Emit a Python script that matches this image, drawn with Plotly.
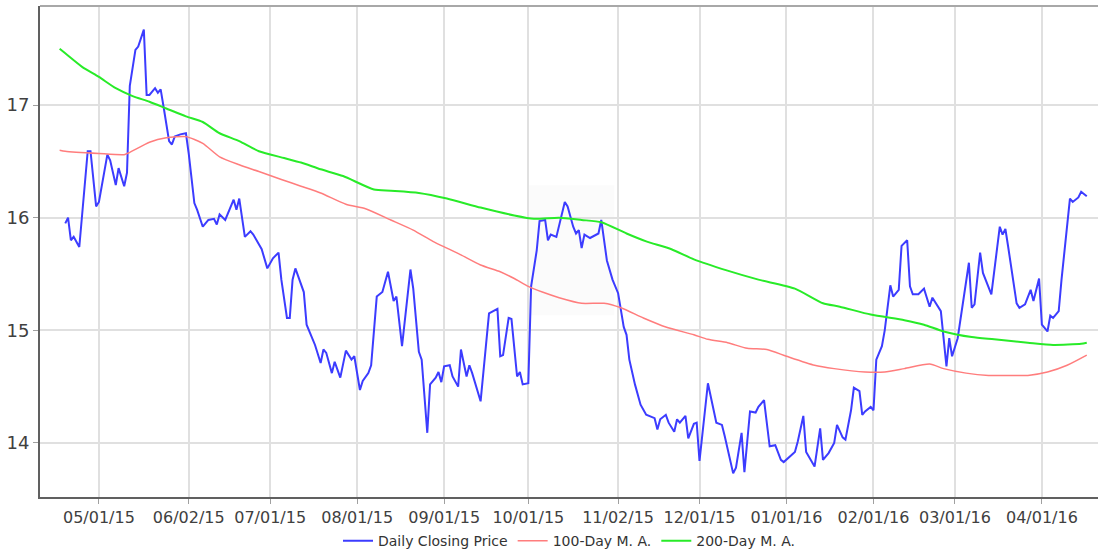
import plotly.graph_objects as go

# ---- Daily closing price ----
price_dates = [
    "2015-04-19", "2015-04-20", "2015-04-21", "2015-04-22", "2015-04-24", "2015-04-27", "2015-04-28", "2015-04-30",
    "2015-05-01", "2015-05-04", "2015-05-05", "2015-05-07", "2015-05-08", "2015-05-10", "2015-05-11", "2015-05-12",
    "2015-05-14", "2015-05-15", "2015-05-17", "2015-05-18", "2015-05-19", "2015-05-21", "2015-05-22", "2015-05-23",
    "2015-05-24", "2015-05-26", "2015-05-27", "2015-05-28", "2015-05-30", "2015-06-01", "2015-06-02", "2015-06-04",
    "2015-06-05", "2015-06-07", "2015-06-09", "2015-06-11", "2015-06-12", "2015-06-13", "2015-06-15", "2015-06-18",
    "2015-06-19", "2015-06-20", "2015-06-22", "2015-06-24", "2015-06-25", "2015-06-28", "2015-06-30", "2015-07-02",
    "2015-07-04", "2015-07-05", "2015-07-07", "2015-07-08", "2015-07-09", "2015-07-10", "2015-07-13", "2015-07-14",
    "2015-07-17", "2015-07-19", "2015-07-20", "2015-07-21", "2015-07-23", "2015-07-24", "2015-07-26", "2015-07-28",
    "2015-07-30", "2015-07-31", "2015-08-02", "2015-08-03", "2015-08-05", "2015-08-06", "2015-08-08", "2015-08-10",
    "2015-08-12", "2015-08-14", "2015-08-15", "2015-08-17", "2015-08-20", "2015-08-21", "2015-08-23", "2015-08-24",
    "2015-08-26", "2015-08-27", "2015-08-29", "2015-08-30", "2015-08-31", "2015-09-01", "2015-09-03", "2015-09-04",
    "2015-09-06", "2015-09-07", "2015-09-09", "2015-09-10", "2015-09-11", "2015-09-14", "2015-09-17", "2015-09-20",
    "2015-09-21", "2015-09-22", "2015-09-24", "2015-09-25", "2015-09-27", "2015-09-28", "2015-09-29", "2015-10-01",
    "2015-10-02", "2015-10-04", "2015-10-05", "2015-10-07", "2015-10-08", "2015-10-09", "2015-10-11", "2015-10-14",
    "2015-10-15", "2015-10-17", "2015-10-18", "2015-10-19", "2015-10-20", "2015-10-21", "2015-10-23", "2015-10-26",
    "2015-10-27", "2015-10-29", "2015-10-31", "2015-11-02", "2015-11-04", "2015-11-05", "2015-11-06", "2015-11-08",
    "2015-11-10", "2015-11-12", "2015-11-15", "2015-11-16", "2015-11-17", "2015-11-19", "2015-11-20", "2015-11-22",
    "2015-11-23", "2015-11-24", "2015-11-26", "2015-11-27", "2015-11-29", "2015-11-30", "2015-12-01", "2015-12-04",
    "2015-12-07", "2015-12-09", "2015-12-10", "2015-12-13", "2015-12-14", "2015-12-16", "2015-12-17", "2015-12-19",
    "2015-12-21", "2015-12-22", "2015-12-24", "2015-12-26", "2015-12-28", "2015-12-30", "2015-12-31", "2016-01-04",
    "2016-01-05", "2016-01-07", "2016-01-08", "2016-01-11", "2016-01-13", "2016-01-14", "2016-01-16", "2016-01-18",
    "2016-01-19", "2016-01-21", "2016-01-22", "2016-01-24", "2016-01-25", "2016-01-27", "2016-01-28", "2016-01-29",
    "2016-01-31", "2016-02-01", "2016-02-02", "2016-02-04", "2016-02-05", "2016-02-07", "2016-02-08", "2016-02-10",
    "2016-02-11", "2016-02-13", "2016-02-14", "2016-02-15", "2016-02-17", "2016-02-19", "2016-02-21", "2016-02-22",
    "2016-02-25", "2016-02-26", "2016-02-27", "2016-02-28", "2016-02-29", "2016-03-02", "2016-03-04", "2016-03-06",
    "2016-03-07", "2016-03-08", "2016-03-10", "2016-03-11", "2016-03-14", "2016-03-17", "2016-03-18", "2016-03-19",
    "2016-03-20", "2016-03-23", "2016-03-24", "2016-03-26", "2016-03-28", "2016-03-29", "2016-03-31", "2016-04-01",
    "2016-04-03", "2016-04-04", "2016-04-05", "2016-04-07", "2016-04-08", "2016-04-11", "2016-04-12", "2016-04-14",
    "2016-04-15", "2016-04-17",
]
price_values = [
    15.95, 16.00, 15.80, 15.83, 15.74, 16.59, 16.59, 16.10,
    16.14, 16.56, 16.51, 16.29, 16.44, 16.28, 16.40, 17.17,
    17.49, 17.52, 17.67, 17.09, 17.09, 17.15, 17.11, 17.14,
    16.99, 16.68, 16.65, 16.72, 16.74, 16.75, 16.57, 16.13,
    16.07, 15.92, 15.98, 15.99, 15.94, 16.03, 15.98, 16.16,
    16.07, 16.17, 15.83, 15.88, 15.85, 15.72, 15.55, 15.64,
    15.69, 15.45, 15.11, 15.11, 15.45, 15.55, 15.34, 15.05,
    14.87, 14.71, 14.83, 14.80, 14.62, 14.72, 14.58, 14.82,
    14.74, 14.77, 14.47, 14.55, 14.62, 14.69, 15.30, 15.34,
    15.52, 15.26, 15.30, 14.86, 15.54, 15.37, 14.81, 14.74,
    14.09, 14.52, 14.58, 14.63, 14.54, 14.68, 14.69, 14.59,
    14.50, 14.83, 14.59, 14.69, 14.62, 14.37, 15.15, 15.19,
    14.77, 14.78, 15.11, 15.10, 14.59, 14.63, 14.52, 14.53,
    15.39, 15.71, 15.97, 15.98, 15.80, 15.85, 15.83, 16.14,
    16.10, 15.92, 15.86, 15.89, 15.73, 15.85, 15.82, 15.86,
    15.98, 15.62, 15.45, 15.33, 15.03, 14.96, 14.74, 14.52,
    14.34, 14.25, 14.22, 14.12, 14.21, 14.25, 14.18, 14.10,
    14.21, 14.18, 14.24, 14.04, 14.17, 14.18, 13.84, 14.53,
    14.18, 14.16, 14.06, 13.73, 13.78, 14.09, 13.74, 14.28,
    14.27, 14.32, 14.38, 13.97, 13.98, 13.85, 13.83, 13.92,
    14.01, 14.24, 13.92, 13.79, 14.13, 13.85, 13.91, 14.00,
    14.16, 14.05, 14.03, 14.29, 14.49, 14.46, 14.25, 14.28,
    14.32, 14.29, 14.74, 14.86, 15.00, 15.40, 15.30, 15.36,
    15.75, 15.80, 15.39, 15.32, 15.32, 15.37, 15.21, 15.29,
    15.17, 14.93, 14.68, 14.93, 14.77, 14.93, 15.27, 15.60,
    15.20, 15.23, 15.69, 15.51, 15.32, 15.92, 15.85, 15.90,
    15.74, 15.24, 15.20, 15.23, 15.36, 15.26, 15.46, 15.05,
    14.99, 15.13, 15.11, 15.17, 15.45, 16.17, 16.14, 16.18,
    16.23, 16.19,
]

# ---- 100-day moving average ----
ma100_dates = [
    "2015-04-17", "2015-04-19", "2015-05-01", "2015-05-10", "2015-05-12", "2015-05-19", "2015-05-25", "2015-06-01",
    "2015-06-07", "2015-06-13", "2015-06-20", "2015-06-27", "2015-07-05", "2015-07-12", "2015-07-19", "2015-07-28",
    "2015-08-04", "2015-08-13", "2015-08-21", "2015-08-28", "2015-09-02", "2015-09-07", "2015-09-14", "2015-09-21",
    "2015-09-26", "2015-10-01", "2015-10-06", "2015-10-12", "2015-10-20", "2015-10-28", "2015-11-03", "2015-11-11",
    "2015-11-19", "2015-11-29", "2015-12-04", "2015-12-11", "2015-12-18", "2015-12-25", "2016-01-01", "2016-01-11",
    "2016-01-18", "2016-01-29", "2016-02-05", "2016-02-12", "2016-02-21", "2016-02-26", "2016-03-05", "2016-03-13",
    "2016-03-20", "2016-03-27", "2016-04-03", "2016-04-10", "2016-04-17",
]
ma100_values = [
    16.60, 16.59, 16.57, 16.56, 16.58, 16.67, 16.71, 16.72,
    16.66, 16.54, 16.47, 16.41, 16.34, 16.28, 16.22, 16.12,
    16.08, 15.98, 15.89, 15.79, 15.73, 15.67, 15.58, 15.52,
    15.46, 15.39, 15.34, 15.29, 15.24, 15.24, 15.20, 15.11,
    15.03, 14.96, 14.92, 14.89, 14.84, 14.83, 14.77, 14.69,
    14.66, 14.63, 14.63, 14.66, 14.70, 14.66, 14.62, 14.60,
    14.60, 14.60, 14.63, 14.69, 14.78,
]

# ---- 200-day moving average ----
ma200_dates = [
    "2015-04-17", "2015-04-19", "2015-04-25", "2015-05-01", "2015-05-07", "2015-05-13", "2015-05-19", "2015-05-25",
    "2015-06-01", "2015-06-07", "2015-06-13", "2015-06-20", "2015-06-27", "2015-07-06", "2015-07-12", "2015-07-19",
    "2015-07-27", "2015-08-07", "2015-08-13", "2015-08-23", "2015-09-02", "2015-09-14", "2015-09-26", "2015-10-03",
    "2015-10-12", "2015-10-20", "2015-10-27", "2015-11-05", "2015-11-12", "2015-11-21", "2015-11-29", "2015-12-11",
    "2015-12-22", "2016-01-04", "2016-01-14", "2016-01-20", "2016-01-31", "2016-02-12", "2016-02-19", "2016-02-26",
    "2016-03-07", "2016-03-15", "2016-03-27", "2016-04-05", "2016-04-15", "2016-04-17",
]
ma200_values = [
    17.50, 17.46, 17.34, 17.25, 17.15, 17.08, 17.03, 16.97,
    16.90, 16.85, 16.75, 16.68, 16.59, 16.53, 16.49, 16.43,
    16.37, 16.25, 16.24, 16.22, 16.17, 16.09, 16.02, 15.99,
    16.00, 15.98, 15.96, 15.86, 15.79, 15.72, 15.63, 15.53,
    15.45, 15.37, 15.24, 15.21, 15.14, 15.09, 15.05, 14.99,
    14.94, 14.92, 14.89, 14.87, 14.88, 14.89,
]

# ---- axis ticks ----
x_tick_dates = ["2015-05-01", "2015-06-02", "2015-07-01", "2015-08-01", "2015-09-01", "2015-10-01",
                "2015-11-02", "2015-12-01", "2016-01-01", "2016-02-01", "2016-03-01", "2016-04-01"]
x_tick_labels = ["05/01/15", "06/02/15", "07/01/15", "08/01/15", "09/01/15", "10/01/15",
                 "11/02/15", "12/01/15", "01/01/16", "02/01/16", "03/01/16", "04/01/16"]
y_tick_vals = [14, 15, 16, 17]

fig = go.Figure()
fig.add_trace(go.Scatter(x=price_dates, y=price_values, mode="lines", name="Daily Closing Price",
                         line=dict(color="rgb(60,60,255)", width=2)))
fig.add_trace(go.Scatter(x=ma100_dates, y=ma100_values, mode="lines", name="100-Day M. A.",
                         line=dict(color="rgb(255,125,125)", width=1.5, shape="spline", smoothing=0.6)))
fig.add_trace(go.Scatter(x=ma200_dates, y=ma200_values, mode="lines", name="200-Day M. A.",
                         line=dict(color="rgb(40,235,40)", width=2, shape="spline", smoothing=0.6)))

fig.update_layout(
    width=1098, height=552,
    margin=dict(l=40, r=0, t=6, b=55, autoexpand=False),
    paper_bgcolor="white", plot_bgcolor="white",
    font=dict(family="DejaVu Sans", color="#404040"),
    showlegend=True,
    legend=dict(orientation="h", x=0.5, xanchor="center", y=-0.09, yanchor="middle",
                font=dict(size=14, color="#333333"), itemwidth=30, bgcolor="rgba(0,0,0,0)"),
    shapes=[
        dict(type="line", xref="paper", yref="paper", x0=0, x1=1, y0=1, y1=1,
             line=dict(color="#a8a8a8", width=2)),
        # faint watermark box
        dict(type="rect", xref="paper", yref="paper", x0=0.461, x1=0.543, y0=0.37, y1=0.635,
             fillcolor="rgba(0,0,0,0.015)", line=dict(width=0), layer="below"),
    ],
)
fig.update_xaxes(
    type="date", range=["2015-04-10", "2016-04-21"], automargin=False,
    tickvals=x_tick_dates, ticktext=x_tick_labels,
    tickfont=dict(size=16, color="#404040"),
    showgrid=True, gridcolor="#e0e0e0", gridwidth=1.5,
    showline=True, linecolor="#606060", linewidth=2,
    ticks="outside", ticklen=5, tickcolor="#a0a0a0", zeroline=False,
)
fig.update_yaxes(
    range=[13.52, 17.88], tickvals=y_tick_vals, automargin=False,
    tickfont=dict(size=18, color="#404040"),
    showgrid=True, gridcolor="#e0e0e0", gridwidth=1.5,
    showline=True, linecolor="#606060", linewidth=2,
    ticks="outside", ticklen=5, tickcolor="#a0a0a0", zeroline=False,
)

fig.write_html("out.html", config={"displayModeBar": False},
               post_script="document.body.style.margin='0px';document.body.style.overflow='hidden';")
